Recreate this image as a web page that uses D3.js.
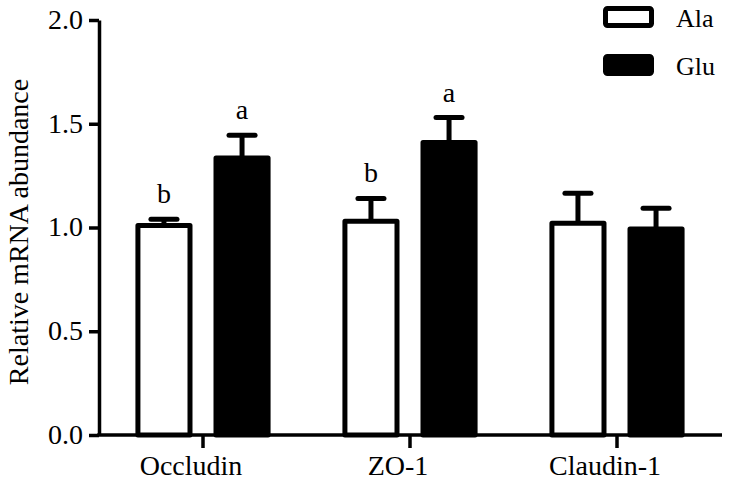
<!DOCTYPE html>
<html><head><meta charset="utf-8">
<script src="https://cdn.jsdelivr.net/npm/d3@7"></script>
<style>
body{margin:0;background:#fff;}
svg{display:block;}
text{font-family:"Liberation Serif","Times New Roman",serif;fill:#000;}
</style></head>
<body>
<svg id="chart" width="730" height="483"></svg>
<script>
const categories = ["Occludin", "ZO-1", "Claudin-1"];
const seriesNames = ["Ala", "Glu"];
const alaValues = [1.01, 1.03, 1.02];
const alaErrors = [0.03, 0.11, 0.145];
const gluValues = [1.335, 1.41, 0.993];
const gluErrors = [0.11, 0.12, 0.10];
const alaLetters = ["b", "b", ""];
const gluLetters = ["a", "a", ""];
const yTicks = [0, 0.5, 1.0, 1.5, 2.0];
const yLabel = "Relative mRNA abundance";

const data = categories.map((c, i) => ({
  cat: c,
  bars: [
    {s: "Ala", v: alaValues[i], e: alaErrors[i], l: alaLetters[i]},
    {s: "Glu", v: gluValues[i], e: gluErrors[i], l: gluLetters[i]}
  ]
}));

const svg = d3.select("#chart");
const x0 = d3.scaleBand().domain(categories).range([99.5, 720.5]).paddingInner(0).paddingOuter(0);
const x1 = d3.scaleBand().domain(seriesNames).range([0, x0.bandwidth()]).paddingInner(0.269).paddingOuter(0.46);
const y = d3.scaleLinear().domain([0, 2]).range([435, 20]);
const fill = d3.scaleOrdinal().domain(seriesNames).range(["#fff", "#000"]);

const sw = 5;

// bars
const g = svg.append("g");
const groups = g.selectAll("g.grp").data(data).join("g")
  .attr("transform", d => `translate(${x0(d.cat)},0)`);

groups.selectAll("line.err").data(d => d.bars).join("line")
  .attr("x1", d => x1(d.s) + x1.bandwidth()/2)
  .attr("x2", d => x1(d.s) + x1.bandwidth()/2)
  .attr("y1", d => y(d.v))
  .attr("y2", d => y(d.v + d.e))
  .attr("stroke", "#000").attr("stroke-width", sw);
groups.selectAll("line.cap").data(d => d.bars).join("line")
  .attr("x1", d => x1(d.s) + x1.bandwidth()/2 - 13)
  .attr("x2", d => x1(d.s) + x1.bandwidth()/2 + 13)
  .attr("y1", d => y(d.v + d.e))
  .attr("y2", d => y(d.v + d.e))
  .attr("stroke", "#000").attr("stroke-width", sw).attr("stroke-linecap", "round");

groups.selectAll("rect").data(d => d.bars).join("rect")
  .attr("x", d => x1(d.s) + sw/2)
  .attr("width", x1.bandwidth() - sw)
  .attr("y", d => y(d.v))
  .attr("height", d => y(0) - y(d.v))
  .attr("fill", d => fill(d.s))
  .attr("stroke", "#000").attr("stroke-width", sw).attr("stroke-linejoin", "round");

groups.selectAll("text.sig").data(d => d.bars.filter(b => b.l)).join("text")
  .attr("x", d => x1(d.s) + x1.bandwidth()/2)
  .attr("y", d => y(d.v + d.e) - 16)
  .attr("text-anchor", "middle")
  .attr("font-size", 28)
  .text(d => d.l);

// y axis
const yAxis = d3.axisLeft(y).tickValues(yTicks).tickFormat(d3.format(".1f"))
  .tickSize(10).tickSizeOuter(0).tickPadding(6);
const ya = svg.append("g").attr("transform", "translate(99,0)").call(yAxis);
ya.select(".domain").attr("stroke", "#000").attr("stroke-width", 3.5);
ya.selectAll(".tick line").attr("stroke", "#000").attr("stroke-width", 3.5);
ya.selectAll(".tick text").attr("font-size", 28).attr("font-family", "Liberation Serif").attr("dy", "0.3em");

// x axis
const xAxis = d3.axisBottom(x0).tickSize(13).tickSizeOuter(0).tickPadding(7);
const xa = svg.append("g").attr("transform", "translate(0,435)").call(xAxis);
xa.select(".domain").attr("stroke", "#000").attr("stroke-width", 3.5).attr("d", "M97.25,0H722");
xa.selectAll(".tick line").attr("stroke", "#000").attr("stroke-width", 3.5);
xa.selectAll(".tick text").attr("font-size", 28).attr("font-family", "Liberation Serif").attr("dx", -12);

// y label
svg.append("text")
  .attr("transform", "translate(28,232) rotate(-90)")
  .attr("text-anchor", "middle")
  .attr("font-size", 28)
  .text(yLabel);

// legend
const leg = svg.append("g");
const legY = d3.scalePoint().domain(seriesNames).range([17, 65]);
leg.selectAll("rect").data(seriesNames).join("rect")
  .attr("x", 605.5).attr("width", 46)
  .attr("y", d => legY(d) - 8.5).attr("height", 17)
  .attr("rx", 2)
  .attr("fill", d => fill(d)).attr("stroke", "#000").attr("stroke-width", sw);
leg.selectAll("text").data(seriesNames).join("text")
  .attr("x", 676).attr("y", d => legY(d) + 10)
  .attr("font-size", 26)
  .text(d => d);
</script>
</body></html>
